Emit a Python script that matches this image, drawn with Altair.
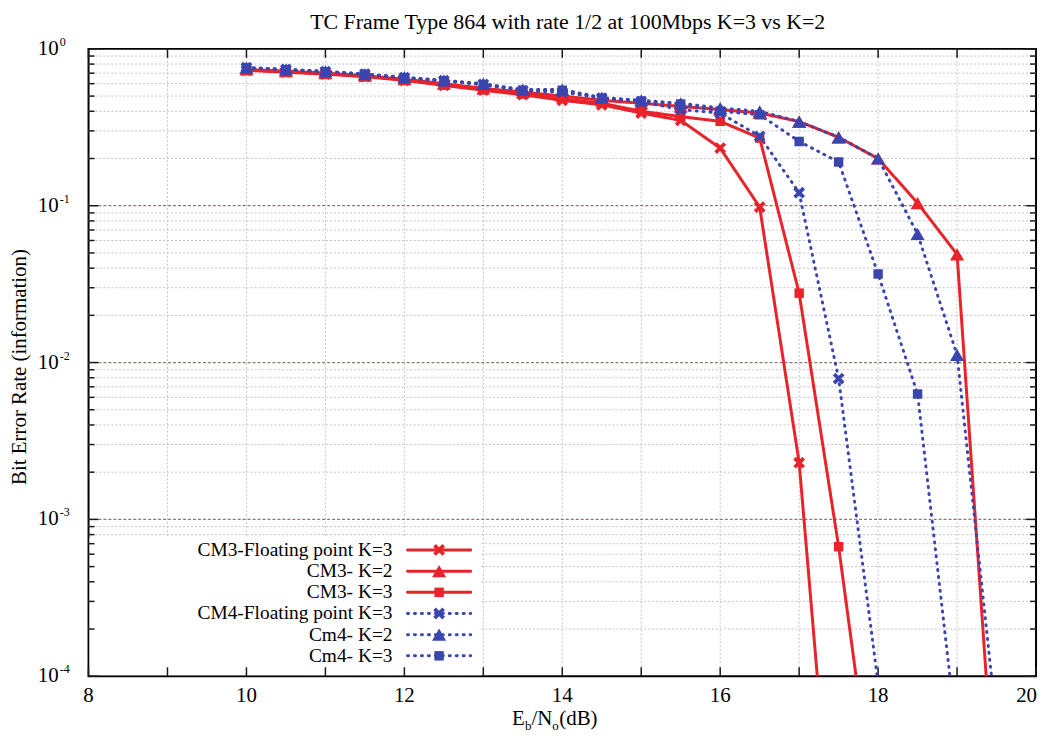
import altair as alt
import pandas as pd

# ---------------- data ----------------
ebno_db = [10.0, 10.5, 11.0, 11.5, 12.0, 12.5, 13.0, 13.5, 14.0, 14.5,
           15.0, 15.5, 16.0, 16.5, 17.0, 17.5, 18.0, 18.5, 19.0, 19.5]

series_names = ["CM3-Floating point K=3", "CM3- K=2", "CM3- K=3",
                "CM4-Floating point K=3", "Cm4- K=2", "Cm4- K=3"]

ber_cm3_fp = [0.73, 0.71, 0.69, 0.665, 0.63, 0.585, 0.545, 0.51, 0.47, 0.44,
              0.39, 0.35, 0.233, 0.098, 0.0023, 2.5e-6]
ber_cm3_k2 = [0.74, 0.72, 0.70, 0.675, 0.64, 0.60, 0.56, 0.53, 0.50, 0.47,
              0.45, 0.43, 0.41, 0.39, 0.344, 0.273, 0.20, 0.104, 0.049, 1.1e-5]
ber_cm3_k3 = [0.735, 0.715, 0.695, 0.67, 0.635, 0.59, 0.55, 0.515, 0.48, 0.45,
              0.40, 0.37, 0.345, 0.27, 0.0277, 6.7e-4, 9e-6]
ber_cm4_fp = [0.76, 0.74, 0.715, 0.69, 0.655, 0.627, 0.594, 0.54, 0.53, 0.485,
              0.46, 0.41, 0.39, 0.277, 0.121, 0.0079, 9e-5]
ber_cm4_k2 = [0.76, 0.74, 0.72, 0.69, 0.66, 0.63, 0.60, 0.55, 0.55, 0.49,
              0.47, 0.45, 0.42, 0.40, 0.344, 0.273, 0.20, 0.066, 0.0112, 5e-5]
ber_cm4_k3 = [0.755, 0.735, 0.715, 0.69, 0.655, 0.625, 0.59, 0.545, 0.545, 0.485,
              0.465, 0.445, 0.40, 0.38, 0.257, 0.19, 0.0367, 0.0063, 4e-5]

x_ticks = list(range(8, 21))
x_labels = [8, 10, 12, 14, 16, 18, 20]
y_decades = [1e-4, 1e-3, 1e-2, 1e-1, 1.0]
y_exponents = ["-4", "-3", "-2", "-1", "0"]
y_minor = [k * 10.0 ** e for e in range(-4, 0) for k in range(2, 10)]

title_text = "TC Frame Type 864 with rate 1/2 at 100Mbps K=3 vs K=2"
y_title_text = "Bit Error Rate (information)"

# ---------------- styles ----------------
FONT = "Liberation Serif"
FS = 21
RED = "#e8232a"
BLUE = "#3a45b0"
W, H = 953, 631
colors = [RED, RED, RED, BLUE, BLUE, BLUE]
dashes = [[1, 0], [1, 0], [1, 0], [1, 6], [1, 6], [1, 6]]
X_PATH = ("M-1,-0.55L-0.55,-1L0,-0.45L0.55,-1L1,-0.55L0.45,0L1,0.55"
          "L0.55,1L0,0.45L-0.55,1L-1,0.55L-0.45,0Z")
shapes = [X_PATH, "triangle-up", "square", X_PATH, "triangle-up", "square"]
sizes = [140, 200, 90, 140, 200, 90]

all_vals = [ber_cm3_fp, ber_cm3_k2, ber_cm3_k3, ber_cm4_fp, ber_cm4_k2, ber_cm4_k3]
rows = []
for i, (name, vals) in enumerate(zip(series_names, all_vals)):
    for xv, v in zip(ebno_db, vals):
        rows.append({"series": name, "order": i, "x": xv, "ber": v})
df = pd.DataFrame(rows)

xs = alt.Scale(domain=[8, 20], nice=False, zero=False)
ys = alt.Scale(type="log", domain=[1e-4, 1], nice=False)
col = alt.Color("series:N", scale=alt.Scale(domain=series_names, range=colors), legend=None)
dash = alt.StrokeDash("series:N", scale=alt.Scale(domain=series_names, range=dashes), legend=None)
shp = alt.Shape("series:N", scale=alt.Scale(domain=series_names, range=shapes), legend=None)
siz = alt.Size("series:N", scale=alt.Scale(type="ordinal", domain=series_names, range=sizes), legend=None)


def X(field):
    return alt.X(field, scale=xs, axis=None)


def Y(field):
    return alt.Y(field, scale=ys, axis=None)


# ---------------- grid ----------------
xgrid = alt.Chart(pd.DataFrame({"v": list(range(9, 20))})).mark_rule(
    color="#c4c4c4", strokeDash=[2, 2], strokeWidth=1).encode(x=X("v:Q"))
ygrid_minor = alt.Chart(pd.DataFrame({"v": y_minor})).mark_rule(
    color="#c4c4c4", strokeDash=[2, 2], strokeWidth=1).encode(y=Y("v:Q"))
ygrid_major = alt.Chart(pd.DataFrame({"v": y_decades[1:4]})).mark_rule(
    color="#8a7b70", strokeDash=[3, 2], strokeWidth=1.3).encode(y=Y("v:Q"))

# legend background box
legend_box = alt.Chart(pd.DataFrame({"a": [0]})).mark_rect(color="white").encode(
    x=alt.value(1), x2=alt.value(395), y=alt.value(492), y2=alt.value(H - 1))

# ---------------- inward ticks ----------------
tick_style = dict(color="#1a1a1a", strokeWidth=1.5)
dec_df = pd.DataFrame({"v": y_decades})
min_df = pd.DataFrame({"v": y_minor})
xt_df = pd.DataFrame({"v": x_ticks})
ticks = [
    alt.Chart(dec_df).mark_rule(**tick_style).encode(y=Y("v:Q"), x=alt.value(0), x2=alt.value(10)),
    alt.Chart(dec_df).mark_rule(**tick_style).encode(y=Y("v:Q"), x=alt.value(W), x2=alt.value(W - 10)),
    alt.Chart(min_df).mark_rule(**tick_style).encode(y=Y("v:Q"), x=alt.value(0), x2=alt.value(6)),
    alt.Chart(min_df).mark_rule(**tick_style).encode(y=Y("v:Q"), x=alt.value(W), x2=alt.value(W - 6)),
    alt.Chart(xt_df).mark_rule(**tick_style).encode(x=X("v:Q"), y=alt.value(H), y2=alt.value(H - 9)),
    alt.Chart(xt_df).mark_rule(**tick_style).encode(x=X("v:Q"), y=alt.value(0), y2=alt.value(9)),
]

# ---------------- data marks ----------------
lines = alt.Chart(df).mark_line(strokeWidth=3, strokeCap="round", clip=True).encode(
    x=X("x:Q"), y=Y("ber:Q"), color=col, strokeDash=dash, detail="series:N",
    order="x:Q")

points = alt.Chart(df).mark_point(filled=True, opacity=1, clip=True).encode(
    x=X("x:Q"), y=Y("ber:Q"), color=col, shape=shp, size=siz, order="order:Q")

# ---------------- legend (drawn inside the plot, lower left) ----------------
leg_top_log = -3.195
leg_step = 0.135
leg_df = pd.DataFrame({
    "series": series_names,
    "ly": [10 ** (leg_top_log - i * leg_step) for i in range(len(series_names))],
    "tx": [11.85] * 6, "lx1": [12.04] * 6, "lx2": [12.84] * 6, "px": [12.44] * 6,
})
leg_lines = alt.Chart(leg_df).mark_rule(strokeWidth=3, strokeCap="round").encode(
    x=X("lx1:Q"), x2="lx2:Q", y=Y("ly:Q"), color=col, strokeDash=dash)
leg_points = alt.Chart(leg_df).mark_point(filled=True, opacity=1).encode(
    x=X("px:Q"), y=Y("ly:Q"), color=col, shape=shp, size=siz)
leg_text = alt.Chart(leg_df).mark_text(
    align="right", baseline="middle", font=FONT, fontSize=19.5, color="black").encode(
    x=X("tx:Q"), y=Y("ly:Q"), text="series:N")

# ---------------- tick labels ----------------
xlab = alt.Chart(pd.DataFrame({"v": x_labels[:-1]})).mark_text(
    align="center", baseline="middle", font=FONT, fontSize=FS, color="black").encode(
    x=X("v:Q"), y=alt.value(H + 20), text="v:N")
xlab_last = alt.Chart(pd.DataFrame({"v": x_labels[-1:]})).mark_text(
    align="right", baseline="middle", font=FONT, fontSize=FS, color="black", dx=1).encode(
    x=X("v:Q"), y=alt.value(H + 20), text="v:N")

ylab_df = pd.DataFrame({"v": y_decades, "e": y_exponents})
ylab_base = alt.Chart(ylab_df).mark_text(
    text="10", align="right", baseline="middle", font=FONT, fontSize=FS, color="black").encode(
    y=Y("v:Q"), x=alt.value(-30))
ylab_exp = alt.Chart(ylab_df).mark_text(
    align="left", baseline="middle", dy=-7, font=FONT, fontSize=12, color="black").encode(
    y=Y("v:Q"), x=alt.value(-29), text="e:N")

# ---------------- titles ----------------
title_mark = alt.Chart(pd.DataFrame({"t": [title_text]})).mark_text(
    align="center", baseline="middle", font=FONT, fontSize=22, color="black").encode(
    x=alt.value(482), y=alt.value(-27), text="t:N")
ytitle_mark = alt.Chart(pd.DataFrame({"t": [y_title_text]})).mark_text(
    align="center", baseline="middle", angle=270, font=FONT, fontSize=FS, color="black").encode(
    x=alt.value(-69), y=alt.value(320), text="t:N")

xt_parts = [("E", 426, FS, 0), ("b", 439, 13, 5), ("/N", 445.5, FS, 0),
            ("o", 466.5, 13, 5), ("(dB)", 473.5, FS, 0)]
xtitle_marks = []
for txt, px, fs, dy in xt_parts:
    xtitle_marks.append(
        alt.Chart(pd.DataFrame({"t": [txt]})).mark_text(
            align="left", baseline="alphabetic", font=FONT, fontSize=fs, dy=dy, color="black").encode(
            x=alt.value(px), y=alt.value(680), text="t:N"))

chart = alt.layer(
    xgrid, ygrid_minor, ygrid_major, legend_box, *ticks, lines, points,
    leg_lines, leg_points, leg_text, xlab, xlab_last, ylab_base, ylab_exp,
    title_mark, ytitle_mark, *xtitle_marks,
).properties(
    width=W, height=H,
    padding={"left": 81, "top": 39, "right": 5, "bottom": 58},
    autosize=alt.AutoSizeParams(type="none"),
    background="white",
).configure_view(stroke="black", strokeWidth=2)

chart.save("out.html", embed_options={"renderer": "svg", "actions": False})
